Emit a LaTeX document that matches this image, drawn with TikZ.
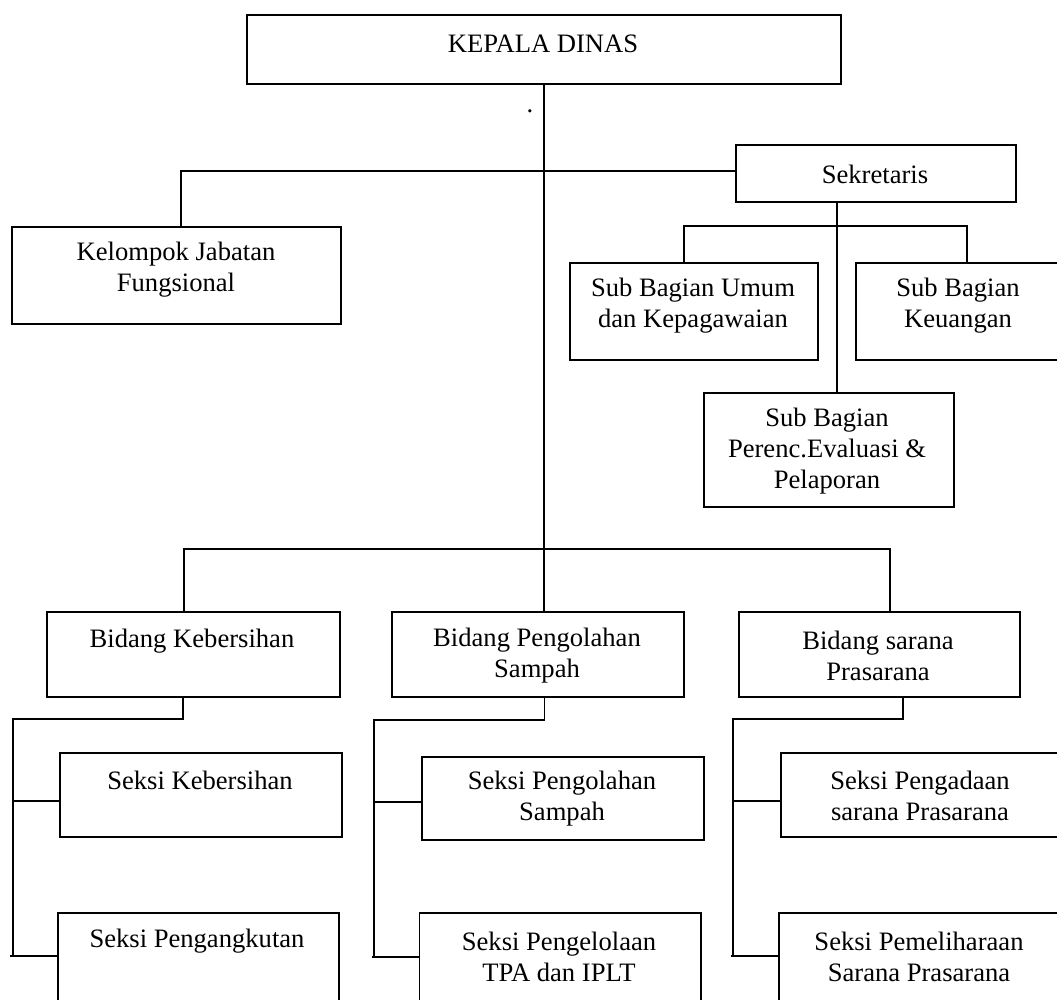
\documentclass[tikz,border=0pt]{standalone}
\usepackage{fontspec}
\setmainfont{Liberation Serif}
\tikzset{
  box/.style={draw=black, line width=1.6pt, anchor=north west, inner sep=0pt, minimum width=#1},
  bh/.style={minimum height=#1},
  txt/.style={align=center, inner sep=0pt, font=\fontsize{26.6}{31}\selectfont},
  conn/.style={draw=black, line width=1.5pt},
}
\begin{document}
\begin{tikzpicture}[x=1pt,y=-1pt]
\useasboundingbox (0,0) rectangle (1057,999);
\clip (0,0) rectangle (1057,999);
\fill[white] (0,0) rectangle (1057,999);

% boxes
\node[box=594pt, bh=69pt] (kd) at (246,14) {};
\node[box=280pt, bh=57pt] (sek) at (735,144) {};
\node[box=329pt, bh=97pt] (kjf) at (11,226) {};
\node[box=248pt, bh=97pt] (um) at (569,262) {};
\node[box=220pt, bh=97pt] (keu) at (855,262) {};
\node[box=250pt, bh=114pt] (per) at (703,392) {};
\node[box=293pt, bh=85pt] (bk) at (46,611) {};
\node[box=292pt, bh=85pt] (bp) at (391,611) {};
\node[box=281pt, bh=85pt] (bs) at (738,611) {};
\node[box=282pt, bh=84pt] (sk) at (59,752) {};
\node[box=281pt, bh=110pt] (sa) at (57,912) {};
\node[box=282pt, bh=83pt] (sp) at (421,756) {};
\node[box=281.5pt, bh=110pt] (sl) at (418.5,912) {};
\node[box=290pt, bh=84pt] (sg) at (780,752) {};
\node[box=292pt, bh=110pt] (sm) at (778,912) {};

% texts
\node[txt] (kd-t) at (543,44) {KEPALA DINAS};
\node[txt, anchor=base] (dot-t) at (530,112) {.};
\node[txt] (sek-t) at (875,174) {Sekretaris};
\node[txt] (kjf-t) at (176,270) {Kelompok Jabatan\\Fungsional};
\node[txt] (um-t) at (693,306) {Sub Bagian Umum\\dan Kepagawaian};
\node[txt] (keu-t) at (958,306) {Sub Bagian\\Keuangan};
\node[txt] (per-t) at (827,451) {Sub Bagian\\Perenc.Evaluasi \&\\Pelaporan};
\node[txt] (bk-t) at (192,641) {Bidang Kebersihan};
\node[txt] (bp-t) at (537,656) {Bidang Pengolahan\\Sampah};
\node[txt] (bs-t) at (878,656) {Bidang sarana\\Prasarana};
\node[txt] (sk-t) at (200,780) {Seksi Kebersihan};
\node[txt] (sa-t) at (197,941) {Seksi Pengangkutan};
\node[txt] (sp-t) at (562,799) {Seksi Pengolahan\\Sampah};
\node[txt] (sl-t) at (559,956.5) {Seksi Pengelolaan\\TPA dan IPLT};
\node[txt] (sg-t) at (920,796) {Seksi Pengadaan\\sarana Prasarana};
\node[txt] (sm-t) at (919,956.5) {Seksi Pemeliharaan\\Sarana Prasarana};

% junction coordinates
\coordinate (j-kjf) at (181,171);
\coordinate (j-sekS) at (837,201);
\coordinate (j-sbar) at (837,226);
\coordinate (j-umT) at (684,262);
\coordinate (j-keT) at (967,262);
\coordinate (j-bb) at (543,549);
\coordinate (j-bkT) at (184,611);
\coordinate (j-bsT) at (890,611);
\coordinate (j-bkB) at (183,696);
\coordinate (j-l1) at (13,719);
\coordinate (j-l2) at (13,956);
\coordinate (j-lA) at (13,801);
\coordinate (j-lB) at (10,956);
\coordinate (j-bpB) at (544.5,696);
\coordinate (j-m1) at (374,720);
\coordinate (j-m2) at (374,957);
\coordinate (j-mA) at (374,802);
\coordinate (j-mB) at (371.5,957);
\coordinate (j-bsB) at (903,696);
\coordinate (j-r1) at (733,719);
\coordinate (j-r2) at (733,956);
\coordinate (j-rA) at (733,801);
\coordinate (j-rB) at (731,956);

% connectors
\draw[conn] (kd.south) -- (kd.south |- bp.north);
\draw[conn] (j-kjf |- kjf.north) -- (j-kjf) -- (j-kjf -| sek.west);
\draw[conn] (j-sekS) -- (j-sekS |- per.north);
\draw[conn] (j-umT) |- (j-sbar) -| (j-keT);
\draw[conn] (j-bkT) |- (j-bb) -| (j-bsT);

\draw[conn] (j-bkB) |- (j-l1) -- (j-l2);
\draw[conn] (j-lA) -- (j-lA -| sk.west);
\draw[conn] (j-lB) -- (j-lB -| sa.west);

\draw[conn] (j-bpB) |- (j-m1) -- (j-m2);
\draw[conn] (j-mA) -- (j-mA -| sp.west);
\draw[conn] (j-mB) -- (j-mB -| sl.west);

\draw[conn] (j-bsB) |- (j-r1) -- (j-r2);
\draw[conn] (j-rA) -- (j-rA -| sg.west);
\draw[conn] (j-rB) -- (j-rB -| sm.west);
\end{tikzpicture}
\end{document}
